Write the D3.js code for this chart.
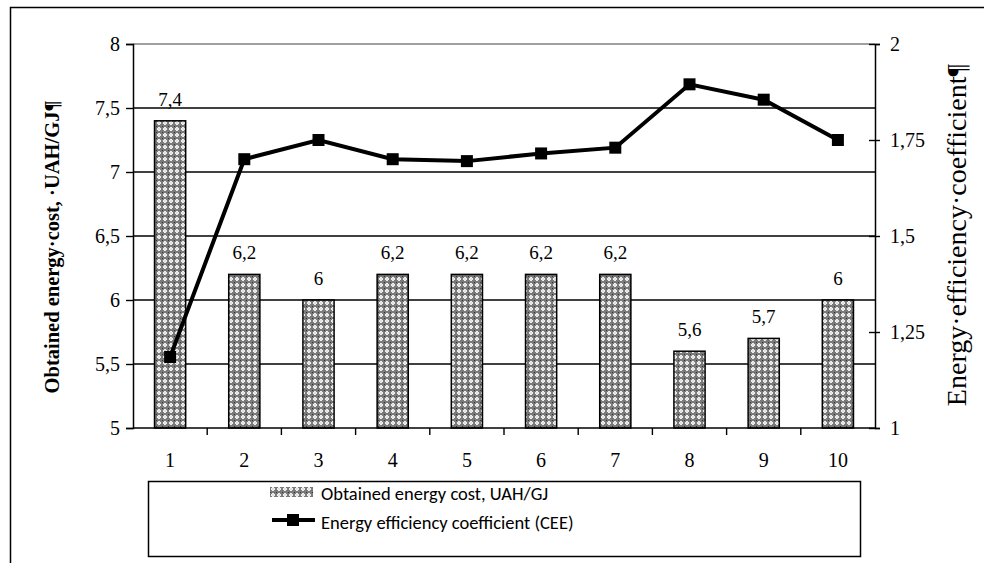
<!DOCTYPE html>
<html><head><meta charset="utf-8">
<script src="https://cdn.jsdelivr.net/npm/d3@7"></script>
<style>body{margin:0;background:#fff}svg{display:block}</style>
</head><body>
<svg id="c" width="984" height="563"></svg>
<script>
const categories = ["1","2","3","4","5","6","7","8","9","10"];
const costValues = [7.4,6.2,6,6.2,6.2,6.2,6.2,5.6,5.7,6];
const costLabels = ["7,4","6,2","6","6,2","6,2","6,2","6,2","5,6","5,7","6"];
const ceeValues = [1.185,1.70,1.75,1.70,1.695,1.715,1.73,1.895,1.855,1.75];
const leftTicks = [5,5.5,6,6.5,7,7.5,8];
const leftTickLabels = ["5","5,5","6","6,5","7","7,5","8"];
const rightTicks = [1,1.25,1.5,1.75,2];
const rightTickLabels = ["1","1,25","1,5","1,75","2"];
const leftTitle = "Obtained energy·cost, ·UAH/GJ¶";
const rightTitle = "Energy·efficiency·coefficient¶";
const legendLabels = ["Obtained energy cost, UAH/GJ","Energy efficiency coefficient (CEE)"];

const svg = d3.select("#c");
const m = {l:133, r:875, t:44, b:428};
const serif = "Liberation Serif";
const sans = "Carlito";

// pattern
const defs = svg.append("defs");
const pat = defs.append("pattern").attr("id","hatch").attr("patternUnits","userSpaceOnUse")
  .attr("width",6).attr("height",6);
pat.append("rect").attr("width",6).attr("height",6).attr("fill","#7a7a7a");
pat.append("rect").attr("x",2).attr("y",1).attr("width",2).attr("height",4).attr("fill","#eeeeee");
pat.append("rect").attr("x",1).attr("y",2).attr("width",4).attr("height",2).attr("fill","#eeeeee");
pat.append("rect").attr("x",2.5).attr("y",2.5).attr("width",1).attr("height",1).attr("fill","#bbbbbb");
pat.append("rect").attr("x",0).attr("y",0).attr("width",1).attr("height",1).attr("fill","#333");

// outer border
svg.append("rect").attr("x",10.5).attr("y",7.5).attr("width",1000).attr("height",600)
  .attr("fill","none").attr("stroke","#000").attr("stroke-width",1.5);

const x = d3.scaleBand().domain(categories).range([m.l,m.r]).paddingInner(0.58).paddingOuter(0.29);
const xb = d3.scaleBand().domain(categories).range([m.l,m.r]);
const yL = d3.scaleLinear().domain([5,8]).range([m.b,m.t]);
const yR = d3.scaleLinear().domain([1,2]).range([m.b,m.t]);

// gridlines
svg.append("g").selectAll("line").data(leftTicks.filter(v=>v>5)).join("line")
  .attr("x1",m.l).attr("x2",m.r).attr("y1",d=>yL(d)).attr("y2",d=>yL(d))
  .attr("stroke",d=>d===8?"#808080":"#000").attr("stroke-width",1.4);

// bars
svg.append("g").selectAll("rect").data(costValues).join("rect")
  .attr("x",(d,i)=>x(categories[i])).attr("width",x.bandwidth())
  .attr("y",d=>yL(d)).attr("height",d=>yL(5)-yL(d))
  .attr("fill","url(#hatch)").attr("stroke","#000").attr("stroke-width",1.5);

// bar labels
svg.append("g").selectAll("text").data(costValues).join("text")
  .attr("x",(d,i)=>x(categories[i])+x.bandwidth()/2).attr("y",d=>yL(d)-15)
  .attr("text-anchor","middle").style("font-family",serif).style("font-size","19px")
  .text((d,i)=>costLabels[i]);

// axes
const gL = svg.append("g").attr("transform",`translate(${m.l},0)`)
  .call(d3.axisLeft(yL).tickValues(leftTicks).tickFormat((d,i)=>leftTickLabels[i]).tickSize(7).tickPadding(6));
const gR = svg.append("g").attr("transform",`translate(${m.r},0)`)
  .call(d3.axisRight(yR).tickValues(rightTicks).tickFormat((d,i)=>rightTickLabels[i]).tickSize(5).tickPadding(10));
gR.selectAll(".tick line").attr("x1",-6);
const gX = svg.append("g").attr("transform",`translate(0,${m.b})`)
  .call(d3.axisBottom(xb).tickSize(0).tickPadding(25));
gX.append("g").selectAll("line").data(categories.slice(1)).join("line")
  .attr("x1",d=>xb(d)).attr("x2",d=>xb(d)).attr("y1",0).attr("y2",7).attr("stroke","#000").attr("stroke-width",1.4);
[gL,gR,gX].forEach(g=>{
  g.attr("font-family",null).attr("font-size",null);
  g.select(".domain").attr("stroke","#000").attr("stroke-width",1.5);
  g.selectAll(".tick line").attr("stroke","#000").attr("stroke-width",1.4);
  g.selectAll("text").style("font-family",serif).style("font-size","20px").attr("fill","#000");
});
gX.select(".domain").attr("d",`M${m.l},0H${m.r}`);

// line
const line = d3.line().x((d,i)=>xb(categories[i])+xb.bandwidth()/2).y(d=>yR(d));
svg.append("path").datum(ceeValues).attr("d",line).attr("fill","none")
  .attr("stroke","#000").attr("stroke-width",4).attr("stroke-linejoin","miter");
svg.append("g").selectAll("rect").data(ceeValues).join("rect")
  .attr("x",(d,i)=>xb(categories[i])+xb.bandwidth()/2-6).attr("y",d=>yR(d)-6)
  .attr("width",12).attr("height",12).attr("fill","#000");

// titles
svg.append("text").attr("transform","translate(59,247) rotate(-90)")
  .attr("text-anchor","middle").style("font-family",serif).style("font-size","20.5px").style("font-weight","bold")
  .text(leftTitle);
svg.append("text").attr("transform","translate(966,235) rotate(-90)")
  .attr("text-anchor","middle").style("font-family",serif).style("font-size","28px")
  .text(rightTitle);

// legend
svg.append("rect").attr("x",148.5).attr("y",481.5).attr("width",712).attr("height",75)
  .attr("fill","#fff").attr("stroke","#000").attr("stroke-width",1.5);
const lg = svg.append("g");
lg.append("rect").attr("x",270).attr("y",487).attr("width",43).attr("height",10).attr("fill","url(#hatch)");
lg.append("line").attr("x1",272).attr("x2",315).attr("y1",520).attr("y2",520).attr("stroke","#000").attr("stroke-width",4);
lg.append("rect").attr("x",287).attr("y",514).attr("width",12).attr("height",12).attr("fill","#000");
lg.selectAll("text").data(legendLabels).join("text")
  .attr("x",321).attr("y",(d,i)=>500+i*29).style("font-family",sans).style("font-size","18.5px")
  .text(d=>d);
</script>
</body></html>
